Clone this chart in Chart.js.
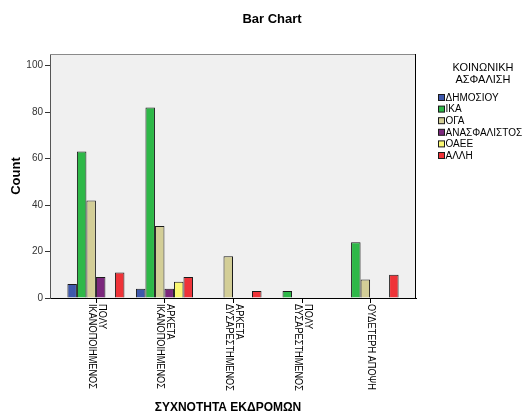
<!DOCTYPE html>
<html lang="el">
<head>
    <meta charset="UTF-8">
    <title>Bar Chart</title>
    <script src="https://cdn.jsdelivr.net/npm/chart.js"></script>
    <style>
        body { margin: 0; background: #fff; }
        .chart-container { width: 524px; height: 416px; }
    </style>
</head>
<body>
    <div class="chart-container">
        <canvas id="barChart"></canvas>
    </div>

    <script>
        // Données
        const categories = [
            ["ΠΟΛΥ", "ΙΚΑΝΟΠΟΙΗΜΕΝΟΣ"],
            ["ΑΡΚΕΤΑ", "ΙΚΑΝΟΠΟΙΗΜΕΝΟΣ"],
            ["ΑΡΚΕΤΑ", "ΔΥΣΑΡΕΣΤΗΜΕΝΟΣ"],
            ["ΠΟΛΥ", "ΔΥΣΑΡΕΣΤΗΜΕΝΟΣ"],
            ["ΟΥΔΕΤΕΡΗ ΑΠΟΨΗ"]
        ];
        const seriesNames = ["ΔΗΜΟΣΙΟΥ", "ΙΚΑ", "ΟΓΑ", "ΑΝΑΣΦΑΛΙΣΤΟΣ", "ΟΑΕΕ", "ΑΛΛΗ"];
        const seriesColors = ["#3E58AC", "#2EB848", "#D3CE97", "#7C287D", "#FBF873", "#EF3338"];
        const dimosiou = [6, 4, null, null, null];
        const ika = [63, 82, null, 3, 24];
        const oga = [42, 31, 18, null, 8];
        const anasfalistos = [9, 4, null, null, null];
        const oaee = [null, 7, null, null, null];
        const alli = [11, 9, 3, null, 10];
        const yTicks = [0, 20, 40, 60, 80, 100];

        const allSeries = [dimosiou, ika, oga, anasfalistos, oaee, alli];
        const FONT = "'Liberation Sans', Arial, sans-serif";

        const datasets = allSeries.map((vals, s) => ({
            label: seriesNames[s],
            data: vals.map((v, i) => ({ x: i, y: v })),
            backgroundColor: seriesColors[s],
            borderColor: '#1a1a1a',
            borderWidth: 1,
            categoryPercentage: 0.832,
            barPercentage: 1
        }));

        // fond gris, bordures, étiquettes, légende
        const decor = {
            id: 'decor',
            beforeDraw(chart) {
                const { ctx, chartArea: a } = chart;
                ctx.save();
                ctx.fillStyle = '#F0F0F0';
                ctx.fillRect(a.left, a.top, a.right - a.left, a.bottom - a.top);
                ctx.restore();
            },
            afterDraw(chart) {
                const { ctx, chartArea: a } = chart;
                const xs = chart.scales.x;
                ctx.save();
                // bordures
                ctx.lineWidth = 1;
                ctx.strokeStyle = '#8a8a8a';
                ctx.beginPath();
                ctx.moveTo(a.left, a.top + 0.5);
                ctx.lineTo(a.right, a.top + 0.5);
                ctx.stroke();
                ctx.strokeStyle = '#000';
                ctx.beginPath();
                ctx.moveTo(a.right - 0.5, a.top);
                ctx.lineTo(a.right - 0.5, a.bottom);
                ctx.stroke();

                // graduations + étiquettes x (rotation horaire)
                ctx.fillStyle = '#000';
                ctx.font = '10px ' + FONT;
                ctx.textAlign = 'left';
                ctx.textBaseline = 'middle';
                const lh = 10.5;
                categories.forEach((lines, i) => {
                    const x = Math.round(xs.getPixelForValue(i)) + 0.5;
                    ctx.beginPath();
                    ctx.moveTo(x, a.bottom);
                    ctx.lineTo(x, a.bottom + 5);
                    ctx.stroke();
                    ctx.save();
                    ctx.translate(x, a.bottom + 6);
                    ctx.rotate(Math.PI / 2);
                    ctx.scale(0.92, 1);
                    lines.forEach((t, k) => {
                        ctx.fillText(t, 0, (k - (lines.length - 1) / 2) * lh);
                    });
                    ctx.restore();
                });

                // titres
                ctx.textAlign = 'center';
                ctx.textBaseline = 'alphabetic';
                ctx.font = 'bold 13px ' + FONT;
                ctx.fillText('Bar Chart', 272, 23);
                ctx.font = 'bold 12px ' + FONT;
                ctx.fillText('ΣΥΧΝΟΤΗΤΑ ΕΚΔΡΟΜΩΝ', 228, 411);
                ctx.save();
                ctx.translate(20, (a.top + a.bottom) / 2);
                ctx.rotate(-Math.PI / 2);
                ctx.font = 'bold 13px ' + FONT;
                ctx.fillText('Count', 0, 0);
                ctx.restore();

                // légende
                ctx.font = '11px ' + FONT;
                ctx.fillText('ΚΟΙΝΩΝΙΚΗ', 483, 71);
                ctx.fillText('ΑΣΦΑΛΙΣΗ', 483, 83);
                ctx.font = '10px ' + FONT;
                ctx.textAlign = 'left';
                ctx.textBaseline = 'middle';
                chart.data.datasets.forEach((ds, s) => {
                    const y = 98 + s * 11.6;
                    ctx.fillStyle = ds.backgroundColor;
                    ctx.fillRect(438.5, y - 3.5, 6, 6);
                    ctx.strokeStyle = '#1a1a1a';
                    ctx.strokeRect(438.5, y - 3.5, 6, 6);
                    ctx.fillStyle = '#000';
                    ctx.fillText(ds.label, 445.5, y);
                });
                ctx.restore();
            }
        };

        const ctx = document.getElementById('barChart').getContext('2d');
        new Chart(ctx, {
            type: 'bar',
            data: { datasets: datasets },
            options: {
                responsive: true,
                maintainAspectRatio: false,
                animation: false,
                layout: { padding: { top: 54, right: 108, bottom: 0, left: 0 } },
                plugins: {
                    legend: { display: false },
                    title: { display: false },
                    tooltip: { enabled: false }
                },
                scales: {
                    x: {
                        type: 'linear',
                        offset: false,
                        min: -0.67,
                        max: 4.67,
                        afterBuildTicks: (s) => { s.ticks = categories.map((c, i) => ({ value: i })); },
                        afterFit: (s) => { s.height = 118; },
                        ticks: { display: false },
                        grid: { display: false, offset: false },
                        border: { display: true, color: '#000' }
                    },
                    y: {
                        min: 0,
                        max: 105,
                        afterBuildTicks: (s) => { s.ticks = yTicks.map(v => ({ value: v })); },
                        afterFit: (s) => { s.width = 50; },
                        ticks: { padding: 2, color: '#333', font: { family: FONT, size: 10 } },
                        grid: { display: true, drawOnChartArea: false, drawTicks: true, tickLength: 5, color: '#333' },
                        border: { display: true, color: '#555' }
                    }
                }
            },
            plugins: [decor]
        });
    </script>
</body>
</html>
